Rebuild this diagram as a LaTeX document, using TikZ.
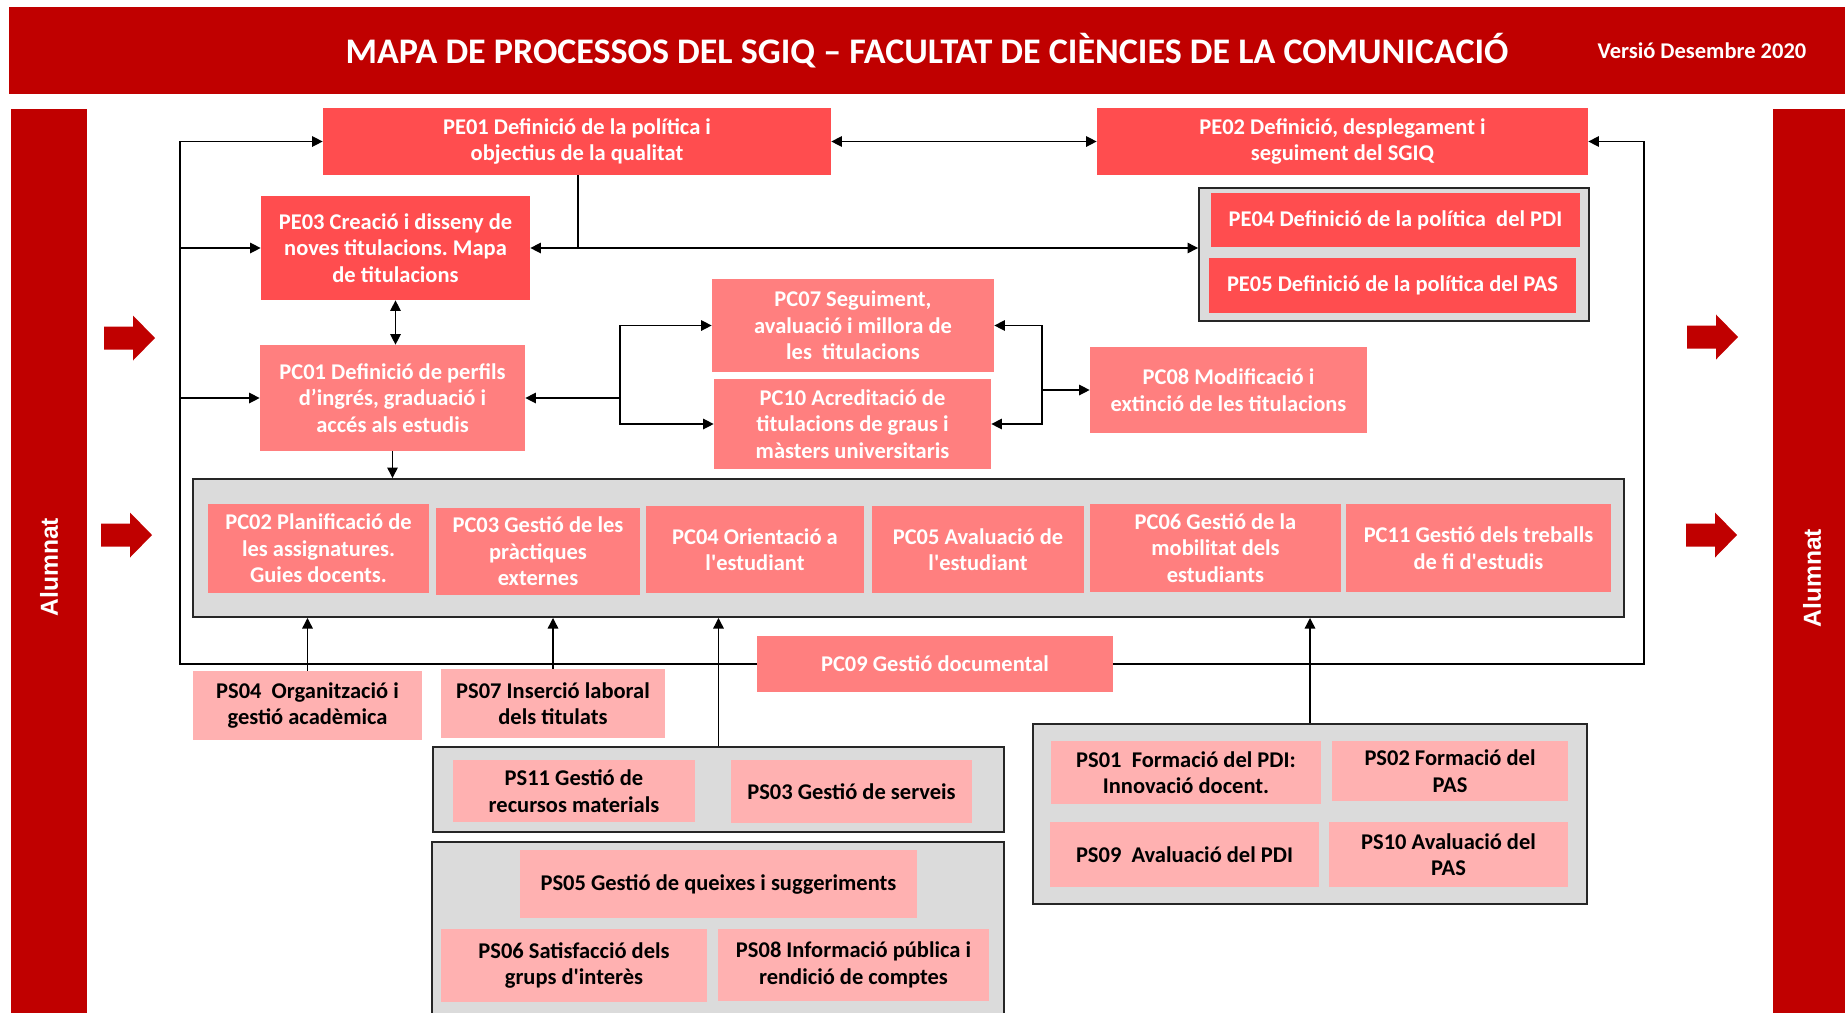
\documentclass[tikz,border=0pt]{standalone}
\usepackage{fontspec}
\setmainfont{Carlito}
\newfontfamily\alumfamily{Liberation Sans}
\usetikzlibrary{arrows.meta}
\frenchspacing
\definecolor{uabred}{HTML}{C00000}
\definecolor{pecol}{HTML}{FF4D4F}
\definecolor{pccol}{HTML}{FF7F7F}
\definecolor{pscol}{HTML}{FFB1B1}
\newcommand{\boxfont}{\fontsize{12.8}{15.1}\selectfont\bfseries}
\newcommand{\titlefont}{\fontsize{20.5}{24}\selectfont\bfseries}
\newcommand{\verfont}{\fontsize{12.8}{15}\selectfont\bfseries}
\newcommand{\alumfont}{\alumfamily\fontsize{14}{16}\selectfont\bfseries}
\newcommand{\apos}{\textquotesingle}
\newcommand{\procbox}[7]{%
  \node[#1, minimum width={((#5)-(#3))*0.02cm},
    minimum height={((#6)-(#4))*0.02cm}]
    (#2) at ({((#3)+(#5))/2}, {((#4)+(#6))/2}) {#7};}
\newcommand{\redarrow}[2]{%
  \fill[uabred] ({#1-25.5}, {#2-11.5}) -- ({#1+3.5}, {#2-11.5})
    -- ({#1+3.5}, {#2-22.5}) -- ({#1+25.5}, {#2})
    -- ({#1+3.5}, {#2+22.5}) -- ({#1+3.5}, {#2+11.5})
    -- ({#1-25.5}, {#2+11.5}) -- cycle;}
\tikzset{
  boxtext/.style={align=center, inner sep=2pt, font=\boxfont},
  pe/.style={boxtext, fill=pecol, text=white},
  pc/.style={boxtext, fill=pccol, text=white},
  ps/.style={boxtext, fill=pscol, text=black},
  grp/.style={draw=black!85, line width=1.1pt, fill=black!14, inner sep=0pt},
  band/.style={fill=uabred, text=white, inner sep=0pt, font=\titlefont},
  bar/.style={fill=uabred, inner sep=0pt},
  alum/.style={text=white, font=\alumfont, rotate=90},
  flow/.style={-{Triangle[length=6pt,width=6pt]}, line width=0.75pt},
  flowboth/.style={{Triangle[length=6pt,width=6pt]}-{Triangle[length=6pt,width=6pt]},
    line width=0.75pt}
}
\begin{document}
\begin{tikzpicture}[x=0.02cm, y=-0.02cm]
    \useasboundingbox (0,0) rectangle (1845,1012);

    \procbox{band}{header}{9}{7}{1845}{94}
      {MAPA DE PROCESSOS DEL SGIQ – FACULTAT DE CIÈNCIES DE LA COMUNICACIÓ}
    \node[text=white, font=\verfont] (version) at (1702,51) {Versió Desembre 2020};

    \procbox{bar}{barL}{11}{109}{87}{1020}{}
    \procbox{bar}{barR}{1773}{109}{1850}{1020}{}
    \node[alum] (alumL) at (49,567) {Alumnat};
    \node[alum] (alumR) at (1812,578) {Alumnat};

    \redarrow{129.5}{338}
    \redarrow{126.5}{535}
    \redarrow{1712.5}{337}
    \redarrow{1711.5}{535}

    \procbox{grp}{pegrp}{1199}{188}{1589}{321}{}
    \procbox{grp}{pcgrp}{193}{479}{1624}{617}{}
    \procbox{grp}{psga}{433}{747}{1004}{832}{}
    \procbox{grp}{psgb}{432}{842}{1004}{1030}{}
    \procbox{grp}{psgc}{1033}{724}{1587}{904}{}

    \procbox{pe}{pe01}{323}{108}{831}{175}
      {PE01 Definició de la política i\\objectius de la qualitat}
    \procbox{pe}{pe02}{1097}{108}{1588}{175}
      {PE02 Definició, desplegament i\\seguiment del SGIQ}
    \procbox{pe}{pe03}{261}{196}{530}{300}
      {PE03 Creació i disseny de\\noves titulacions. Mapa\\de titulacions}
    \procbox{pe}{pe04}{1211}{193}{1580}{247}
      {PE04 Definició de la política\ \ del PDI}
    \procbox{pe}{pe05}{1209}{258}{1576}{313}
      {PE05 Definició de la política del PAS}

    \procbox{pc}{pc01}{260}{345}{525}{451}
      {PC01 Definició de perfils\\d’ingrés, graduació i\\accés als estudis}
    \procbox{pc}{pc07}{712}{279}{994}{372}
      {PC07 Seguiment,\\avaluació i millora de\\les\ \ titulacions}
    \procbox{pc}{pc10}{714}{379}{991}{469}
      {PC10 Acreditació de\\titulacions de graus i\\màsters universitaris}
    \procbox{pc}{pc08}{1090}{347}{1367}{433}
      {PC08 Modificació i\\extinció de les titulacions}
    \procbox{pc}{pc02}{208}{504}{429}{593}
      {PC02 Planificació de\\les assignatures.\\Guies docents.}
    \procbox{pc}{pc03}{436}{508}{640}{595}
      {PC03 Gestió de les\\pràctiques\\externes}
    \procbox{pc}{pc04}{646}{506}{864}{593}
      {PC04 Orientació a\\l\apos estudiant}
    \procbox{pc}{pc05}{872}{506}{1084}{593}
      {PC05 Avaluació de\\l\apos estudiant}
    \procbox{pc}{pc06}{1090}{504}{1341}{592}
      {PC06 Gestió de la\\mobilitat dels\\estudiants}
    \procbox{pc}{pc11}{1346}{504}{1611}{592}
      {PC11 Gestió dels treballs\\de fi d\apos estudis}
    \procbox{pc}{pc09}{757}{636}{1113}{692}
      {PC09 Gestió documental}

    \procbox{ps}{ps04}{193}{671}{422}{740}
      {PS04\ \ Organització i\\gestió acadèmica}
    \procbox{ps}{ps07}{441}{669}{665}{738}
      {PS07 Inserció laboral\\dels titulats}
    \procbox{ps}{ps11}{453}{760}{695}{822}
      {PS11 Gestió de\\recursos materials}
    \procbox{ps}{ps03}{731}{760}{972}{823}
      {PS03 Gestió de serveis}
    \procbox{ps}{ps05}{520}{850}{917}{918}
      {PS05 Gestió de queixes i suggeriments}
    \procbox{ps}{ps06}{441}{929}{707}{1002}
      {PS06 Satisfacció dels\\grups d\apos interès}
    \procbox{ps}{ps08}{718}{929}{989}{1001}
      {PS08 Informació pública i\\rendició de comptes}
    \procbox{ps}{ps01}{1051}{741}{1321}{804}
      {PS01\ \ Formació del PDI:\\Innovació docent.}
    \procbox{ps}{ps02}{1332}{741}{1568}{801}
      {PS02 Formació del\\PAS}
    \procbox{ps}{ps09}{1050}{822}{1319}{887}
      {PS09\ \ Avaluació del PDI}
    \procbox{ps}{ps10}{1329}{822}{1568}{887}
      {PS10 Avaluació del\\PAS}

    \coordinate (loopTL) at (180,141.5);
    \coordinate (loopTR) at (1644,141.5);
    \coordinate (pe01s) at (578,248);
    \coordinate (forkL) at (620,398);
    \coordinate (forkR) at (1042,390);

    \draw[flow] (pc09.west) -| (loopTL) -- (pe01.west);
    \draw[flow] (loopTL |- pe03.west) -- (pe03.west);
    \draw[flow] (loopTL |- pc01.west) -- (pc01.west);
    \draw[flow] (pc09.east) -| (loopTR) -- (pe02.east);
    \draw[flowboth] (pe01.east) -- (pe02.west);
    \draw[line width=0.75pt] (pe01.south -| pe01s) -- (pe01s);
    \draw[flow] (pe01s) -- (pe03.east);
    \draw[flow] (pe01s) -- (pe01s -| pegrp.west);
    \draw[flowboth] (pe03.south) -- (pe03.south |- pc01.north);
    \draw[flow] (pc01.south) -- (pc01.south |- pcgrp.north);
    \draw[flow] (forkL) -- (pc01.east);
    \draw[flow] (forkL) |- (pc07.west);
    \draw[flow] (forkL) |- (pc10.west);
    \draw[flow] (forkR) -- (pc08.west);
    \draw[flow] (forkR) |- (pc07.east);
    \draw[flow] (forkR) |- (pc10.east);
    \draw[flow] (ps04.north) -- (ps04.north |- pcgrp.south);
    \draw[flow] (ps07.north) -- (ps07.north |- pcgrp.south);
    \draw[flow] (psga.north) -- (psga.north |- pcgrp.south);
    \draw[flow] (psgc.north) -- (psgc.north |- pcgrp.south);
\end{tikzpicture}
\end{document}
